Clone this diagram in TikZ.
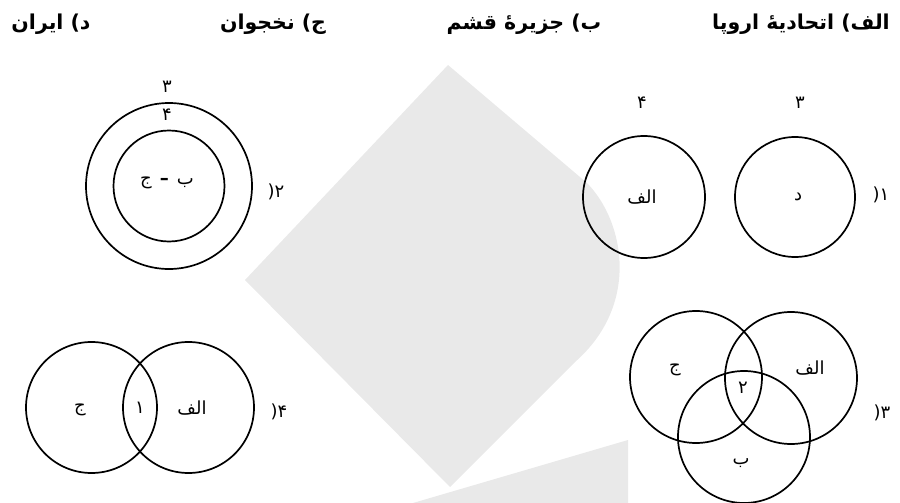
\documentclass[tikz,border=0pt]{standalone}
\usepackage{fontspec}
\newfontfamily\ar[Script=Arabic]{DejaVu Sans}
\TeXXeTstate=1
\definecolor{wm}{HTML}{E9E9E9}
\begin{document}
\begin{tikzpicture}[x=1pt,y=-1pt,
  ring/.style={circle,draw=black,line width=1.7pt,minimum size=#1,inner sep=0pt},
  lab/.style={font=\ar\fontsize{18}{21}\selectfont,inner sep=0pt},
  head/.style={font=\ar\bfseries\fontsize{20.5}{24}\selectfont,inner sep=0pt}]
\useasboundingbox (0,0) rectangle (900,503);
% watermark
\fill[wm] (448,65) -- (587,183) .. controls (625,222) and (640,305) .. (575,362) -- (450,487) -- (245,280) -- cycle;
\fill[wm] (413,503) -- (628,440) -- (628,503) -- cycle;
% headers
\node[head] (hA) at (801,24) {\beginR الف) اتحادیهٔ اروپا\endR};
\node[head] (hB) at (524,24) {\beginR ب) جزیرهٔ قشم\endR};
\node[head] (hC) at (273,24) {\beginR ج) نخجوان\endR};
\node[head] (hD) at (51,24) {\beginR د) ایران\endR};
% diagram 1
\node[ring=122pt] (c1a) at (644,197) {};
\node[ring=120pt] (c1b) at (795,197) {};
\node[lab] (t1a) at (642,197) {\beginR الف\endR};
\node[lab] (t1b) at (798,197) {\beginR د\endR};
\node[lab] (n1a) at (642,103) {۴};
\node[lab] (n1b) at (800,103) {۳};
\node[lab] (q1) at (881,195) {\beginR ۱(\endR};
% diagram 2
\node[ring=166pt] (c2o) at (169,186) {};
\node[ring=111pt] (c2i) at (169,186) {};
\node[lab] (n2o) at (167,87) {۳};
\node[lab] (n2i) at (167,115) {۴};
\node[lab] (t2) at (167,183) {\beginR ب\hspace{8pt}{\bfseries –}\hspace{8pt}ج\endR};
\node[lab] (q2) at (276,192) {\beginR ۲(\endR};
% diagram 3
\node[ring=132pt] (c3c) at (696,377) {};
\node[ring=132pt] (c3a) at (791,378) {};
\node[ring=132pt] (c3b) at (744,437) {};
\node[lab] (t3c) at (675,370) {\beginR ج\endR};
\node[lab] (t3a) at (810,368) {\beginR الف\endR};
\node[lab] (t3m) at (743,388) {۲};
\node[lab] (t3b) at (741,463) {\beginR ب\endR};
\node[lab] (q3) at (882,413) {\beginR ۳(\endR};
% diagram 4
\node[ring=131pt] (c4c) at (91.5,407.5) {};
\node[ring=131pt] (c4a) at (188.5,407.5) {};
\node[lab] (t4c) at (80,410) {\beginR ج\endR};
\node[lab] (t4m) at (140,408) {۱};
\node[lab] (t4a) at (192,408) {\beginR الف\endR};
\node[lab] (q4) at (279,412) {\beginR ۴(\endR};
\end{tikzpicture}
\end{document}
